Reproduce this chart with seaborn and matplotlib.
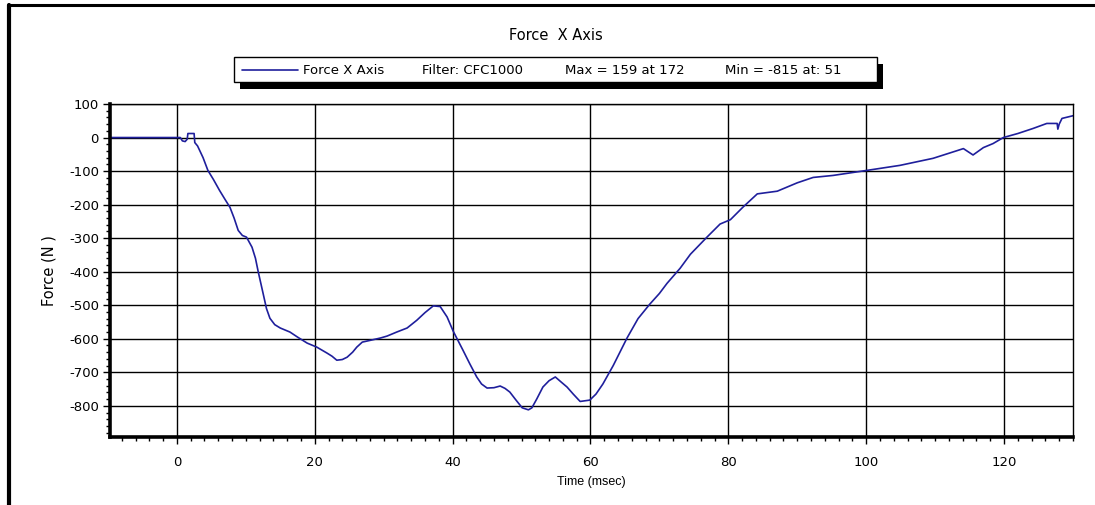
#!/usr/bin/env python3
import matplotlib
matplotlib.use("Agg")
import matplotlib.pyplot as plt
from matplotlib.lines import Line2D
from matplotlib.patches import Rectangle
from matplotlib.ticker import MultipleLocator
import pandas as pd
import seaborn as sns

# values
time_ms = [
    -10, 0.5, 0.8, 1.2, 1.5, 1.6, 2.5, 2.6, 3.0, 3.8, 4.5, 5.3, 6.2, 7.0, 7.7,
    8.3, 8.9, 9.5, 10.1, 10.9, 11.4, 11.8, 12.5, 13.0, 13.5, 14.2, 15.0, 16.4,
    17.5, 18.9, 20.3, 21.8, 22.5, 23.2, 24.0, 24.7, 25.5, 26.1, 26.9, 28.0,
    29.5, 30.5, 31.9, 33.4, 34.8, 36.0, 37.2, 38.2, 39.2, 40.1, 41.5, 42.5,
    43.5, 44.2, 45.0, 46.0, 46.9, 47.6, 48.3, 49.2, 50.1, 51.0, 51.5, 52.2,
    53.1, 54.0, 54.9, 55.8, 56.6, 57.5, 58.5, 59.9, 60.8, 61.8, 63.3, 65.3,
    66.9, 68.6, 70.0, 71.1, 73.0, 74.5, 76.9, 78.8, 80.3, 82.1, 84.2, 87.1,
    90.0, 92.3, 95.2, 100.1, 104.9, 109.7, 113.2, 114.1, 115.5, 117.0, 118.4,
    119.9, 122.0, 124.2, 126.2, 127.7, 127.8, 128.0, 128.4, 130.0,
]
force_n = [
    0, 0, -10, -12, -5, 12, 12, -15, -25, -60, -98, -125, -158, -185, -208,
    -240, -277, -292, -297, -327, -360, -400, -464, -510, -539, -558, -568, -580,
    -595, -613, -625, -643, -652, -664, -662, -655, -640, -625, -610, -605,
    -598, -592, -580, -568, -545, -522, -502, -504, -535, -578, -634, -675,
    -714, -735, -747, -746, -741, -748, -759, -783, -806, -812, -806, -780,
    -744, -725, -714, -730, -744, -765, -787, -783, -765, -735, -680, -598,
    -540, -497, -465, -435, -390, -348, -297, -258, -245, -208, -168, -160,
    -135, -119, -113, -98, -83, -62, -39, -33, -52, -30, -18,
    0, 12, 27, 42, 42, 25, 40, 57, 65,
]
legend_items = ["Force X Axis", "Filter: CFC1000", "Max = 159 at 172",
                "Min = -815 at: 51"]

W, H = 1095, 505
LINE_COLOR = "#1f1f9c"


def fx(px):
    return px / W


def fy(py):
    return 1 - py / H


df = pd.DataFrame({"time": time_ms, "force": force_n})

sns.set_style("white")
plt.rcParams["font.family"] = ["DejaVu Sans"]
plt.rcParams["axes.unicode_minus"] = False
plt.rcParams["text.color"] = "black"
plt.rcParams["axes.labelcolor"] = "black"

fig = plt.figure(figsize=(W / 100, H / 100), dpi=100)
ax = fig.add_axes([fx(110), fy(437), fx(1073) - fx(110), fy(104) - fy(437)])

sns.lineplot(data=df, x="time", y="force", ax=ax, color=LINE_COLOR,
             linewidth=1.2, sort=False, estimator=None, legend=False)

ax.set_xlim(-9.7, 130)
ax.set_ylim(-893, 100)
ax.xaxis.set_major_locator(MultipleLocator(20))
ax.xaxis.set_minor_locator(MultipleLocator(2))
ax.yaxis.set_minor_locator(MultipleLocator(20))
ax.set_yticks(range(-800, 101, 100))
ax.grid(True, which="major", color="black", linewidth=1.0)
ax.tick_params(which="both", direction="out", colors="black", labelsize=9.5,
               bottom=True, left=True)
ax.tick_params(which="major", length=5, width=1, pad=3)
ax.tick_params(which="minor", length=3, width=1)
ax.tick_params(axis="x", which="major", pad=9)

for side in ("left", "bottom"):
    ax.spines[side].set_linewidth(2.6)
for side in ("top", "right"):
    ax.spines[side].set_linewidth(1.0)
for sp in ax.spines.values():
    sp.set_color("black")

ax.set_xlabel("Time (msec)", fontsize=9, family="Liberation Sans", labelpad=5)
ax.set_ylabel("Force (N )", fontsize=10.5, labelpad=9)
fig.text(fx(556), fy(35), "Force  X Axis", ha="center", va="center",
         fontsize=10.5)

# legend box with black drop shadow
fig.add_artist(Rectangle((fx(240), fy(89)), fx(643), fy(57) - fy(82),
                         transform=fig.transFigure, facecolor="black",
                         edgecolor="none", zorder=3))
fig.add_artist(Rectangle((fx(234), fy(82)), fx(643), fy(57) - fy(82),
                         transform=fig.transFigure, facecolor="white",
                         edgecolor="black", linewidth=1.0, zorder=4))
fig.add_artist(Line2D([fx(242), fx(298)], [fy(70), fy(70)],
                      transform=fig.transFigure, color=LINE_COLOR,
                      linewidth=1.2, zorder=5))
for label, left in zip(legend_items, [303, 422, 565, 725]):
    fig.text(fx(left), fy(70), label, ha="left", va="center", fontsize=9.5,
             zorder=5)

# outer frame (top and left edges)
fig.add_artist(Line2D([0.0085, 0.0085], [0.0, 0.99], transform=fig.transFigure,
                      color="black", linewidth=3))
fig.add_artist(Line2D([0.007, 1.0], [0.99, 0.99], transform=fig.transFigure,
                      color="black", linewidth=2.2))

fig.savefig("out.png", dpi=100)
